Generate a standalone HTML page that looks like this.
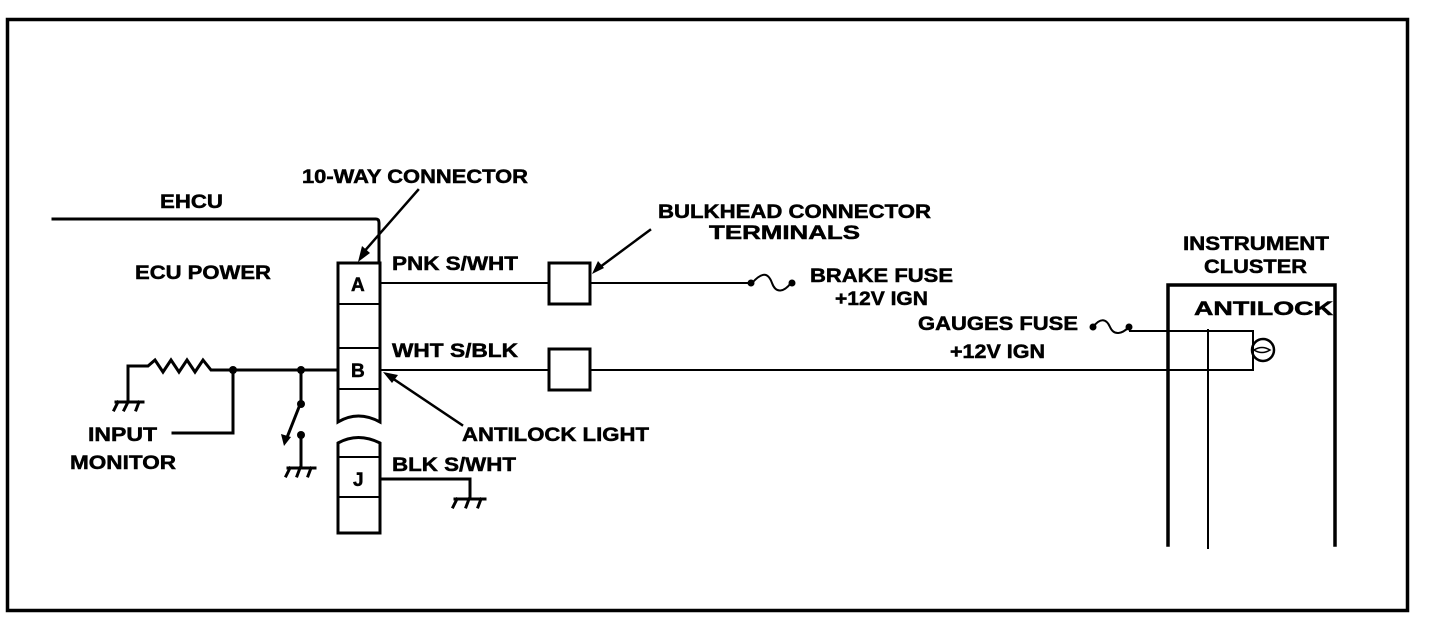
<!DOCTYPE html>
<html><head><meta charset="utf-8"><style>
html,body{margin:0;padding:0;background:#fff;}
svg{display:block;}
text{font-family:"Liberation Sans",Arial,sans-serif;font-weight:bold;font-size:19px;fill:#000;stroke:#000;stroke-width:0.5;}
</style></head><body>
<svg width="1440" height="628" viewBox="0 0 1440 628" xmlns="http://www.w3.org/2000/svg">
<g fill="none" stroke="#000" stroke-linecap="square">
<rect x="7.5" y="19.5" width="1400" height="591" stroke-width="3.5"/>
<path d="M53 219 H376 Q379 219 379 223 V262" stroke-width="3"/>
<path d="M338 263 H380 V404 Q380 420 380 422 Q358 410 338 422 Z" stroke-width="3"/>
<path d="M338 304 H380 M338 348 H380 M338 389 H380" stroke-width="2"/>
<path d="M338 443 Q358 432 380 443 V533 H338 Z" stroke-width="3"/>
<path d="M338 457 H380 M338 497 H380" stroke-width="2"/>
<path d="M418 190 L362 254" stroke-width="2.5"/>
<path d="M381 283 H548 M590 283 H750" stroke-width="2"/>
<rect x="549" y="263" width="41" height="41" stroke-width="3"/>
<path d="M752 283 C762 272 768 272 772 283 C776 294 784 292 791 283" stroke-width="2"/>
<path d="M650 230 L596 270" stroke-width="2.5"/>
<path d="M381 370 H548 M590 370 H1253 V331 H1130" stroke-width="2"/>
<rect x="549" y="349" width="41" height="41" stroke-width="3"/>
<path d="M1093 327 C1100 318 1106 318 1110 327 C1114 336 1122 334 1129 327" stroke-width="2"/>
<circle cx="1263" cy="350" r="11" stroke-width="2.5"/>
<path d="M1254 350 Q1262 345 1270 350 Q1262 355 1254 350" stroke-width="1.5"/>
<path d="M1168 545 V285 H1335 V545" stroke-width="3.5"/>
<path d="M1208 330 V548" stroke-width="2"/>
<path d="M462 425 L392 378" stroke-width="2.5"/>
<path d="M128 401 V366 H148 L155 360 L163 372 L171 360 L179 372 L187 360 L195 372 L203 360 L211 370 H336" stroke-width="3"/>
<path d="M233 370 V433 H173" stroke-width="3"/>
<path d="M301 370 V402 L286 440" stroke-width="3"/>
<path d="M301 435 V467" stroke-width="3"/>
<path d="M116 402 H143 M118 402 L114 410 M128 402 L124 410 M139 402 L136 410" stroke-width="3"/>
<path d="M288 468 H315 M290 468 L286 476 M300 468 L297 476 M311 468 L308 476" stroke-width="3"/>
<path d="M381 479 H470 V498" stroke-width="3"/>
<path d="M455 499 H485 M457 499 L453 507 M469 499 L466 507 M481 499 L478 507" stroke-width="3"/>
</g>
<g fill="#000">
<polygon points="358,262 362,246 370,253"/>
<polygon points="592,274 598,261 604,268"/>
<polygon points="383,372 398,375 392,383"/>
<polygon points="284,446 281,434 291,437"/>
<circle cx="233" cy="370" r="4"/><circle cx="301" cy="370" r="4"/>
<circle cx="301" cy="404" r="4"/><circle cx="301" cy="435" r="4"/>
<circle cx="751" cy="283" r="3.5"/><circle cx="792" cy="283" r="3.5"/>
<circle cx="1093" cy="327" r="3.5"/><circle cx="1129" cy="327" r="3.5"/>
</g>
<text x="160" y="208" textLength="63" lengthAdjust="spacingAndGlyphs">EHCU</text>
<text x="302" y="183" textLength="226" lengthAdjust="spacingAndGlyphs">10-WAY CONNECTOR</text>
<text x="135" y="279" textLength="136" lengthAdjust="spacingAndGlyphs">ECU POWER</text>
<text x="351" y="291">A</text>
<text x="351" y="377">B</text>
<text x="353" y="486">J</text>
<text x="392" y="270" textLength="126" lengthAdjust="spacingAndGlyphs">PNK S/WHT</text>
<text x="392" y="357" textLength="126" lengthAdjust="spacingAndGlyphs">WHT S/BLK</text>
<text x="392" y="471" textLength="124" lengthAdjust="spacingAndGlyphs">BLK S/WHT</text>
<text x="462" y="441" textLength="187" lengthAdjust="spacingAndGlyphs">ANTILOCK LIGHT</text>
<text x="88" y="441" textLength="69" lengthAdjust="spacingAndGlyphs">INPUT</text>
<text x="70" y="469" textLength="106" lengthAdjust="spacingAndGlyphs">MONITOR</text>
<text x="658" y="218" textLength="273" lengthAdjust="spacingAndGlyphs">BULKHEAD CONNECTOR</text>
<text x="709" y="239" textLength="151" lengthAdjust="spacingAndGlyphs">TERMINALS</text>
<text x="810" y="282" textLength="143" lengthAdjust="spacingAndGlyphs">BRAKE FUSE</text>
<text x="835" y="305" textLength="93" lengthAdjust="spacingAndGlyphs">+12V IGN</text>
<text x="918" y="330" textLength="160" lengthAdjust="spacingAndGlyphs">GAUGES FUSE</text>
<text x="950" y="358" textLength="95" lengthAdjust="spacingAndGlyphs">+12V IGN</text>
<text x="1183" y="250" textLength="146" lengthAdjust="spacingAndGlyphs">INSTRUMENT</text>
<text x="1204" y="273" textLength="103" lengthAdjust="spacingAndGlyphs">CLUSTER</text>
<text x="1194" y="315" textLength="139" lengthAdjust="spacingAndGlyphs">ANTILOCK</text>
</svg>
</body></html>
